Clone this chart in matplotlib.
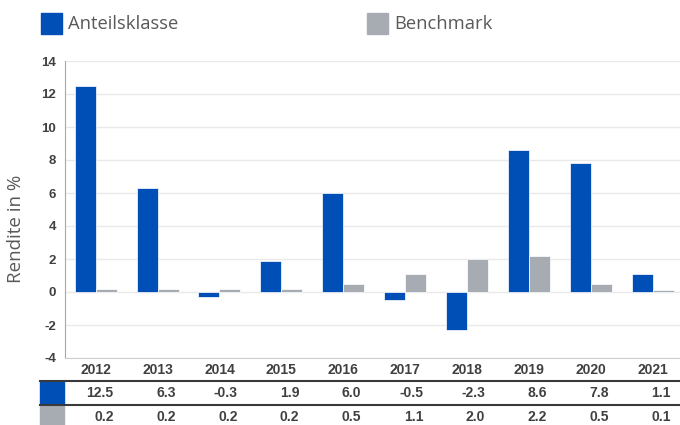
import matplotlib.pyplot as plt
from matplotlib.patches import Rectangle
from matplotlib.transforms import blended_transform_factory
import numpy as np

years = ["2012", "2013", "2014", "2015", "2016", "2017", "2018", "2019", "2020", "2021"]
fund = [12.5, 6.3, -0.3, 1.9, 6.0, -0.5, -2.3, 8.6, 7.8, 1.1]
bench = [0.2, 0.2, 0.2, 0.2, 0.5, 1.1, 2.0, 2.2, 0.5, 0.1]
series_names = ["Anteilsklasse", "Benchmark"]

BLUE = "#004fb6"
GREY = "#a6acb2"
TXT = "#404040"

W, H = 680, 425

plt.rcParams["axes.unicode_minus"] = False


def fx(px):
    return px / W


def fy(py):
    # py measured from top of image
    return 1 - py / H


def main():
    fig = plt.figure(figsize=(6.8, 4.25), dpi=100)
    ax = fig.add_axes([fx(64.7), fy(358), fx(619), 297 / H])

    x = np.arange(len(years))
    bw = 0.34
    ax.bar(x - bw / 2, fund, bw, color=BLUE, edgecolor="white", linewidth=0.5, zorder=3)
    ax.bar(x + bw / 2, bench, bw, color=GREY, edgecolor="white", linewidth=0.5, zorder=3)

    ax.set_xlim(-0.5, len(years) - 0.5)
    ax.set_ylim(-4, 14)
    ax.set_yticks(range(-4, 15, 2))
    ax.set_xticks([])
    ax.yaxis.grid(True, color="#e9e9e9", linewidth=1, zorder=0)
    ax.set_axisbelow(True)
    for s in ["top", "right"]:
        ax.spines[s].set_visible(False)
    ax.spines["left"].set_color("#a8a8a8")
    ax.spines["bottom"].set_color("#cfcfcf")
    ax.tick_params(axis="y", length=0, pad=6, labelcolor=TXT)
    for lab in ax.get_yticklabels():
        lab.set_fontfamily("Liberation Sans")
        lab.set_fontweight("bold")
        lab.set_fontsize(9.5)

    fig.text(fx(16), fy(229), "Rendite in %", rotation=90, ha="center", va="center",
             fontsize=13.5, color="#595959", fontfamily="Open Sans")

    # legend
    for name, col, px in zip(series_names, [BLUE, GREY], [41, 367]):
        fig.patches.append(Rectangle((fx(px), fy(34)), fx(21), 21 / H,
                                     transform=fig.transFigure, color=col))
        fig.text(fx(px + 27), fy(24), name, ha="left", va="center",
                 fontsize=13.2, color="#595959", fontfamily="Open Sans")

    # data table below the chart
    tr = blended_transform_factory(ax.transData, fig.transFigure)
    off = 18 / (619 / len(years))
    for i, yr in enumerate(years):
        fig.text(i, fy(370), yr, transform=tr, ha="center", va="center",
                 fontsize=10, fontweight="bold", color=TXT, fontfamily="Liberation Sans")
        fig.text(i + off, fy(393), f"{fund[i]:.1f}", transform=tr, ha="right", va="center",
                 fontsize=10, fontweight="bold", color=TXT, fontfamily="Liberation Sans")
        fig.text(i + off, fy(417), f"{bench[i]:.1f}", transform=tr, ha="right", va="center",
                 fontsize=10, fontweight="bold", color=TXT, fontfamily="Liberation Sans")

    for py in [381, 405]:
        fig.add_artist(plt.Line2D([fx(40), 1], [fy(py), fy(py)], transform=fig.transFigure,
                                  color="#3a3a3a", linewidth=1.5))
    fig.patches.append(Rectangle((fx(40), fy(404)), fx(24), 22 / H,
                                 transform=fig.transFigure, color=BLUE))
    fig.patches.append(Rectangle((fx(40), fy(425)), fx(24), 19 / H,
                                 transform=fig.transFigure, color=GREY))

    fig.savefig("out.png", dpi=100)


if __name__ == "__main__":
    main()
